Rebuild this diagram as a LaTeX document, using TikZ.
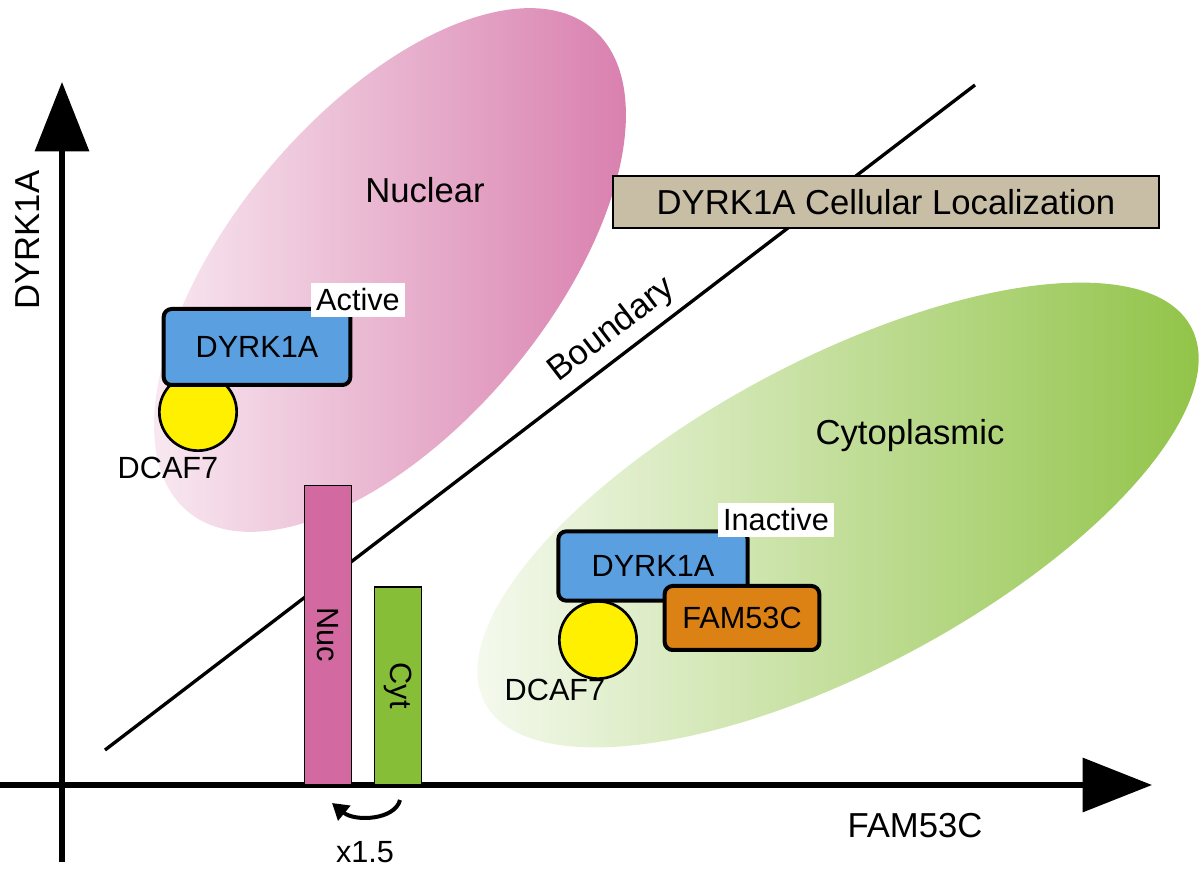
\documentclass[tikz,border=0pt]{standalone}
\usepackage{fontspec}
\setmainfont{Liberation Sans}
\usetikzlibrary{arrows.meta}
\definecolor{pinkc}{RGB}{210,105,160}
\definecolor{greenc}{RGB}{135,190,55}
\definecolor{tanc}{RGB}{200,190,165}
\definecolor{bluec}{RGB}{90,160,225}
\definecolor{orangec}{RGB}{220,130,20}
\definecolor{yellowc}{RGB}{255,240,0}
\begin{document}
\begin{tikzpicture}[x=0.75pt,y=-0.75pt,
  lbl/.style={font=\fontsize{23}{27}\selectfont},
  big/.style={font=\fontsize{26}{30}\selectfont},
  prot/.style={draw=black,line width=3pt,rounded corners=6pt,inner sep=0pt},
  wbox/.style={fill=white,font=\fontsize{23}{27}\selectfont,inner sep=4pt},
  bar/.style={draw=black,line width=1pt}]
\useasboundingbox (0,0) rectangle (1200,887);
% ellipses
\begin{scope}
\clip[rotate around={50:(390,270)}] (390,270) ellipse (315 and 158);
\shade[rotate around={50:(390,270)},left color=white,right color=pinkc] (60,100) rectangle (720,440);
\end{scope}
\begin{scope}
\clip[rotate around={28:(838,515)}] (838,515) ellipse (400 and 155);
\shade[rotate around={28:(838,515)},left color=white,right color=greenc] (430,350) rectangle (1245,680);
\end{scope}
% boundary
\coordinate (b1) at (105,750); \coordinate (b2) at (975,85);
\draw[line width=2.5pt] (b1) -- (b2);
\node[big,rotate=37.4] (bl) at (612,330) {Boundary};
% axes
\coordinate (yo) at (62,862); \coordinate (yt) at (62,82);
\coordinate (xo) at (0,785); \coordinate (xt) at (1152,785);
\draw[line width=4pt,-{Triangle[length=52,width=40]}] (yo) -- (yt);
\draw[line width=4pt,-{Triangle[length=52,width=40]}] (xo) -- (xt);
\node[big,rotate=90] (yl) at (28,240) {DYRK1A};
\node[big] (xl) at (915,826) {FAM53C};
% title
\node[draw=black,line width=1.5pt,fill=tanc,big,minimum width=410,minimum height=39,inner sep=0pt] (title) at (886,202) {DYRK1A Cellular Localization};
\node[big] (nuc) at (425,190) {Nuclear};
\node[big] (cyt) at (910,436) {Cytoplasmic};
% active complex
\node[prot,fill=yellowc,circle,minimum size=58,line width=2pt] (y1) at (198,412) {};
\node[prot,fill=bluec,minimum width=140,minimum height=57,lbl] (d1) at (257,347) {DYRK1A};
\node[wbox] (a1) at (358,300) {Active};
\node[lbl] (c1) at (168,468) {DCAF7};
% inactive complex
\node[prot,fill=yellowc,circle,minimum size=58,line width=2pt] (y2) at (598,640) {};
\node[prot,fill=bluec,minimum width=142,minimum height=52,lbl] (d2) at (653,566) {DYRK1A};
\node[prot,fill=orangec,minimum width=116,minimum height=48,lbl] (f2) at (742,618) {FAM53C};
\node[wbox] (a2) at (776,520) {Inactive};
\node[lbl] (c2) at (555,690) {DCAF7};
% bars
\node[bar,fill=pinkc,minimum width=35,minimum height=224,inner sep=0pt,anchor=south] (nb) at (328,785) {};
\node[lbl,rotate=-90] at (nb) {Nuc};
\node[bar,fill=greenc,minimum width=35,minimum height=148,inner sep=0pt,anchor=south] (cb) at (398,785) {};
\node[lbl,rotate=-90] at (cb) {Cyt};
% curved arrow
\coordinate (ca1) at (400,800); \coordinate (ca2) at (332,803);
\draw[line width=3pt,-{Triangle[length=12,width=14]}] (ca1) .. controls (395,820) and (355,822) .. (ca2);
\node[lbl] (x15) at (365,852) {x1.5};
\end{tikzpicture}
\end{document}
